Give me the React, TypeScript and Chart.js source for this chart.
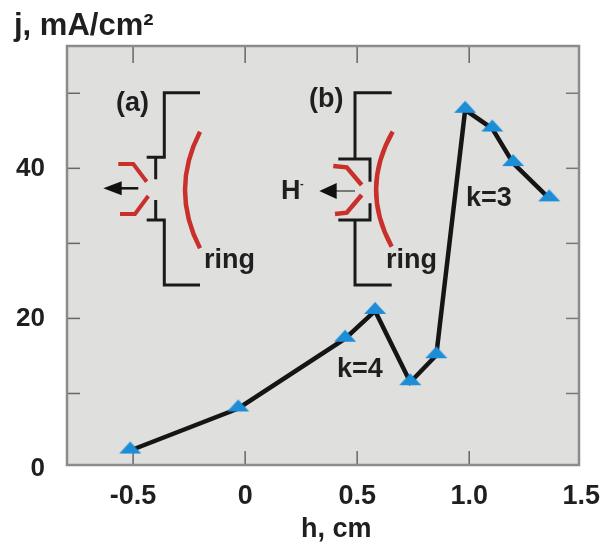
import React, { useEffect, useRef } from "react";
import { Chart, registerables } from "chart.js";

Chart.register(...registerables);

const hValues = [-0.513, -0.031, 0.446, 0.58, 0.737, 0.853, 0.982, 1.103, 1.196, 1.357];
const jValues = [2.4, 8.0, 17.3, 21.0, 11.5, 15.1, 47.8, 45.3, 40.7, 36.0];
const xTickValues = [-0.5, 0, 0.5, 1, 1.5];
const xTickLabels = ["-0.5", "0", "0.5", "1.0", "1.5"];
const yTickValues = [0, 10, 20, 30, 40, 50];
const yLabelled = [0, 20, 40];

const FONT = "'Liberation Sans', Arial, sans-serif";
const INK = "#1f1f1f";
const RED = "#c9302c";

function makeMarker(): HTMLCanvasElement {
  const c = document.createElement("canvas");
  c.width = 26;
  c.height = 20;
  const g = c.getContext("2d")!;
  g.fillStyle = "#1c8dd6";
  g.beginPath();
  g.moveTo(13, 1);
  g.lineTo(24, 13);
  g.lineTo(2, 13);
  g.closePath();
  g.fill();
  return c;
}

function poly(g: CanvasRenderingContext2D, pts: number[][], color: string, w: number) {
  g.strokeStyle = color;
  g.lineWidth = w;
  g.beginPath();
  pts.forEach(([x, y], i) => (i ? g.lineTo(x, y) : g.moveTo(x, y)));
  g.stroke();
}

function arc(g: CanvasRenderingContext2D, a: number[], c: number[], b: number[]) {
  g.strokeStyle = RED;
  g.lineWidth = 4.5;
  g.beginPath();
  g.moveTo(a[0], a[1]);
  g.quadraticCurveTo(c[0], c[1], b[0], b[1]);
  g.stroke();
}

function head(g: CanvasRenderingContext2D, tip: number, base: number, y: number, half: number) {
  g.fillStyle = "#111";
  g.beginPath();
  g.moveTo(tip, y);
  g.lineTo(base, y - half);
  g.lineTo(base, y + half);
  g.closePath();
  g.fill();
}

function text(g: CanvasRenderingContext2D, s: string, x: number, y: number, size: number) {
  g.fillStyle = INK;
  g.font = `bold ${size}px ${FONT}`;
  g.textAlign = "left";
  g.textBaseline = "alphabetic";
  g.fillText(s, x, y);
}

const framePlugin = {
  id: "frame",
  beforeDatasetsDraw(chart: any) {
    const { ctx: g, chartArea: a, scales } = chart;
    g.save();
    g.fillStyle = "#dfe0de";
    g.fillRect(a.left, a.top, a.right - a.left, a.bottom - a.top);
    g.lineCap = "butt";
    yTickValues.slice(1).forEach((v) => {
      const y = scales.y.getPixelForValue(v);
      poly(g, [[a.left, y], [a.left + 13, y]], "#666", 1.5);
      poly(g, [[a.right, y], [a.right - 13, y]], "#777", 1.5);
    });
    xTickValues.slice(0, 4).forEach((v) => {
      const x = scales.x.getPixelForValue(v);
      poly(g, [[x, a.bottom], [x, a.bottom - 14]], "#666", 1.5);
      poly(g, [[x, a.top], [x, a.top + 17]], "#666", 1.5);
    });
    g.strokeStyle = "#8b8b8b";
    g.lineWidth = 2.5;
    g.strokeRect(a.left, a.top, a.right - a.left, a.bottom - a.top);

    // inset (a)
    const k = "#1a1a1a";
    g.lineJoin = "miter";
    poly(g, [[200, 92.7], [164.3, 92.7], [164.3, 157.3], [146.7, 157.3]], k, 3);
    poly(g, [[146.7, 220], [164.3, 220], [164.3, 285], [200, 285]], k, 3);
    poly(g, [[155.7, 157.3], [155.7, 179.3]], k, 3);
    poly(g, [[155.7, 200], [155.7, 220]], k, 3);
    poly(g, [[118.3, 164], [133.3, 164], [146.7, 181.7]], RED, 4);
    poly(g, [[120, 214], [135, 214], [148.3, 196]], RED, 4);
    arc(g, [200, 131.7], [170, 190], [200, 248.3]);
    poly(g, [[138.3, 188.3], [118, 188.3]], "#111", 2.5);
    head(g, 103.3, 121.7, 188.3, 7);

    // inset (b)
    poly(g, [[391.7, 92.7], [355, 92.7], [355, 159]], k, 3);
    poly(g, [[338.3, 159], [370, 159], [370, 181.7]], k, 3);
    poly(g, [[370, 203.3], [370, 220], [338.3, 220]], k, 3);
    poly(g, [[355, 220], [355, 285], [391.7, 285]], k, 3);
    poly(g, [[333.3, 166], [346.7, 167.3], [361.7, 185]], RED, 4.5);
    poly(g, [[335, 214], [346.7, 212.7], [361.7, 195]], RED, 4.5);
    arc(g, [392.7, 131.7], [360, 189], [391.7, 246.7]);
    poly(g, [[355, 191], [334, 191]], "#333", 1.2);
    head(g, 319.3, 336.7, 191, 8);
    g.restore();
  },
  afterDraw(chart: any) {
    const g = chart.ctx;
    g.save();
    text(g, "(a)", 116, 111, 27);
    text(g, "ring", 204, 268, 27);
    text(g, "(b)", 309, 107, 27);
    text(g, "ring", 386, 268, 27);
    text(g, "H", 281, 199, 27);
    text(g, "-", 300, 187, 11);
    text(g, "k=3", 466, 206, 27);
    text(g, "k=4", 337, 377, 27);
    text(g, "h, cm", 301, 537, 27);
    g.restore();
  },
};

export default function App() {
  const ref = useRef<HTMLCanvasElement>(null);
  useEffect(() => {
    const chart = new Chart(ref.current!, {
      type: "line",
      plugins: [framePlugin],
      data: {
        datasets: [
          {
            data: hValues.map((x, i) => ({ x, y: jValues[i] })),
            borderColor: "#151515",
            borderWidth: 4.5,
            tension: 0,
            pointStyle: makeMarker() as any,
            pointRadius: 10,
            clip: false as any,
          },
        ],
      },
      options: {
        animation: false,
        responsive: false,
        layout: { padding: { left: 14, right: 21, top: 0, bottom: 0 } },
        plugins: {
          legend: { display: false },
          tooltip: { enabled: false },
          title: {
            display: true,
            text: "j, mA/cm²",
            align: "start",
            color: INK,
            font: { family: FONT, size: 31, weight: "bold", lineHeight: 1.2 },
            padding: { top: 8, bottom: 0.8 },
          },
        },
        scales: {
          x: {
            type: "linear",
            min: -0.795,
            max: 1.49,
            grid: { display: false },
            border: { display: false },
            afterBuildTicks: (s: any) => {
              s.ticks = xTickValues.map((value) => ({ value }));
            },
            afterFit: (s: any) => {
              s.height = 81;
              s.paddingLeft = 0;
              s.paddingRight = 0;
            },
            ticks: {
              autoSkip: false,
              maxRotation: 0,
              color: INK,
              padding: 7,
              font: { family: FONT, size: 27, weight: "bold" },
              callback: (v: any) => xTickLabels[xTickValues.indexOf(Number(v))] ?? "",
            },
          },
          y: {
            type: "linear",
            min: 0.47,
            max: 56.3,
            grid: { display: false },
            border: { display: false },
            afterBuildTicks: (s: any) => {
              s.ticks = yTickValues.map((value) => ({ value }));
            },
            afterFit: (s: any) => {
              s.width = 53;
              s.paddingTop = 0;
              s.paddingBottom = 0;
            },
            ticks: {
              autoSkip: false,
              color: INK,
              padding: 14,
              font: { family: FONT, size: 26, weight: "bold" },
              callback: (v: any) => (yLabelled.includes(Number(v)) ? String(v) : ""),
            },
          },
        },
      },
    });
    return () => chart.destroy();
  }, []);
  return (
    <div style={{ position: "absolute", left: 0, top: 0, width: 600, height: 546, background: "#fff" }}>
      <canvas ref={ref} width={600} height={546} style={{ display: "block" }} />
    </div>
  );
}
